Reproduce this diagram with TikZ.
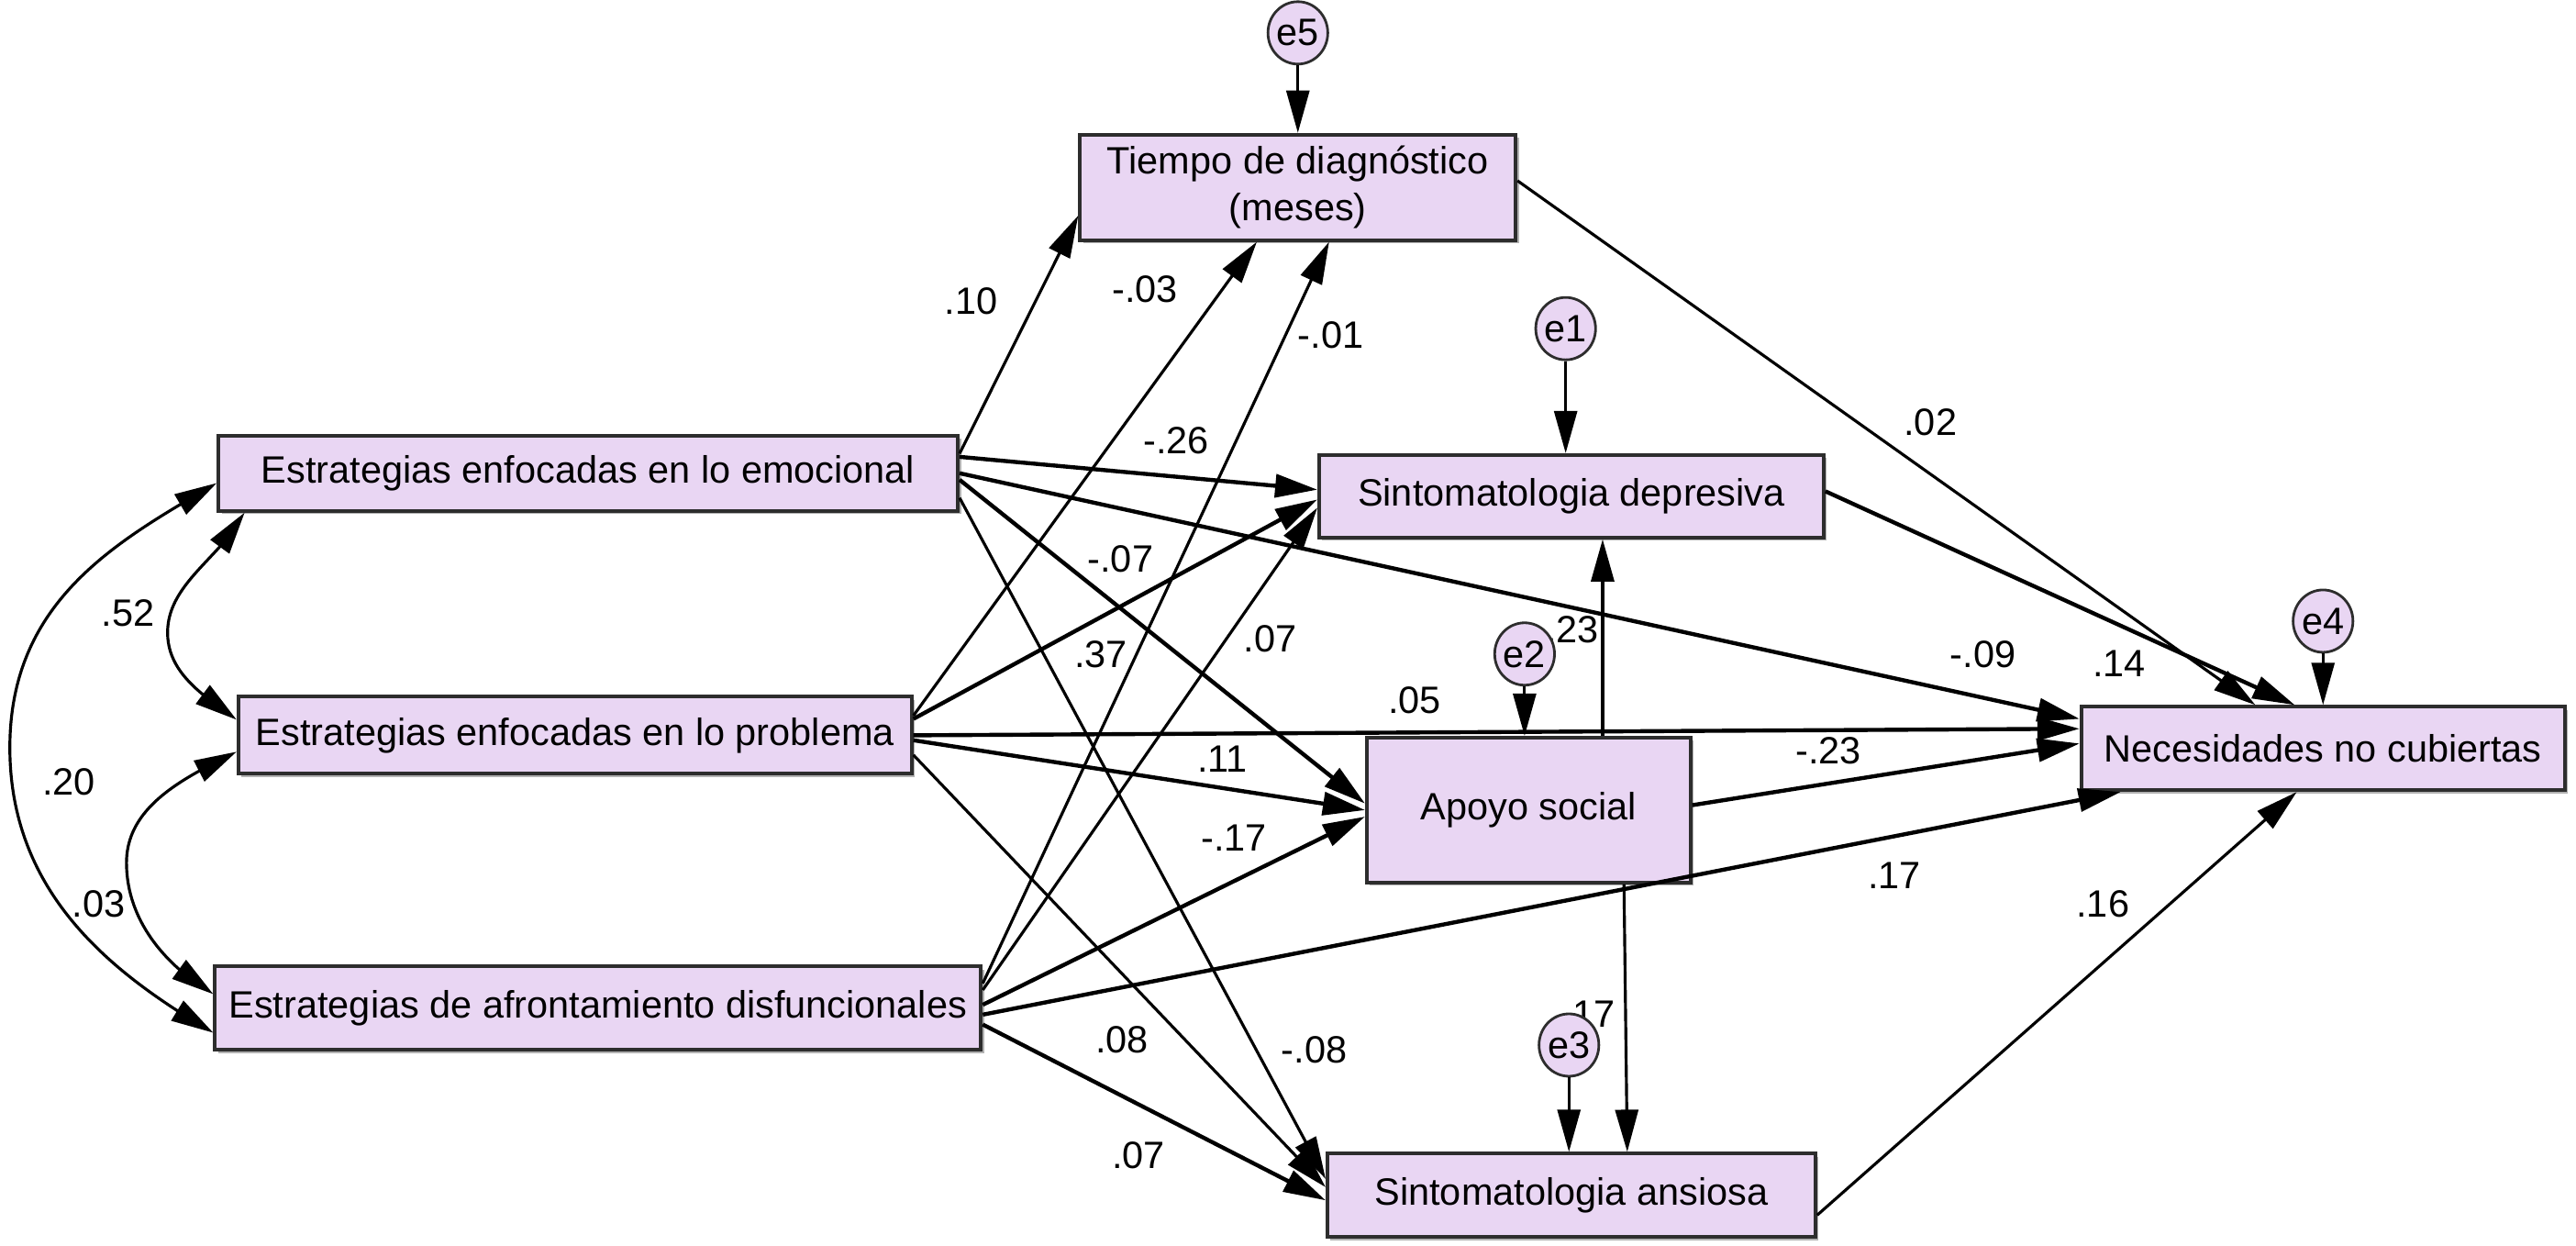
\documentclass[tikz,border=0pt]{standalone}
\usepackage{fontspec}
\setmainfont{Liberation Sans}
\usetikzlibrary{arrows.meta,bending,calc,shapes.geometric,shadows}
\definecolor{lav}{RGB}{233,214,243}
\definecolor{edge}{RGB}{45,45,45}

\begin{document}
\begin{tikzpicture}[x=0.1791mm,y=-0.1791mm,font=\fontsize{11.8}{14.5}\selectfont,
    var/.style={draw=edge,fill=lav,line width=1.1pt,inner sep=0pt,align=center,
      drop shadow={shadow xshift=1pt,shadow yshift=-1pt,fill=black,opacity=.3}},
    err/.style={ellipse,draw=edge,fill=lav,line width=.8pt,inner sep=0pt,
      minimum width=6.4mm,minimum height=6.8mm},
    coef/.style={inner sep=0pt},
    link/.style={-{Triangle[length=4.6mm,width=2.5mm]},line width=.9pt},
    heavy/.style={link,line width=1.25pt},
    cov/.style={{Triangle[length=4.6mm,width=2.5mm]}-{Triangle[length=4.6mm,width=2.5mm]},line width=.9pt}]
  \useasboundingbox (0,0) rectangle (1568,758);

  % observed variables
  \node[var,minimum width=80.6mm,minimum height=8.2mm] (emo) at (358,288) {Estrategias enfocadas en lo emocional};
  \node[var,minimum width=73.4mm,minimum height=8.4mm] (prob) at (350,447.5) {Estrategias enfocadas en lo problema};
  \node[var,minimum width=83.5mm,minimum height=9.1mm] (disf) at (364,613.5) {Estrategias de afrontamiento disfuncionales};
  \node[var,minimum width=47.5mm,minimum height=11.5mm] (tiempo) at (790,114) {Tiempo de diagn\'ostico\\(meses)};
  \node[var,minimum width=55mm,minimum height=9mm] (depre) at (956.5,302) {Sintomatologia depresiva};
  \node[var,minimum width=35.3mm,minimum height=15.8mm] (apoyo) at (930.5,493) {Apoyo social};
  \node[var,minimum width=52.7mm,minimum height=9.1mm] (necs) at (1414,455.5) {Necesidades no cubiertas};
  \node[var,minimum width=53.2mm,minimum height=9.1mm] (ansi) at (956.5,727.5) {Sintomatologia ansiosa};

  % coefficients
  \foreach \w/\x/\y [count=\i] in {.10/591/183, -.03/697/176, -.01/810/204, -.26/716/268,
      .02/1175/257, .52/78/373, -.07/682/340, .37/670/398, .07/773/389, .23/957/383,
      -.09/1207/398, .14/1290/404, .05/861/426, .20/42/476, .11/744/462, -.23/1113/457,
      -.17/751/510, .17/1153/533, .16/1280/550, .03/60/550, .17/967/617, .08/683/633,
      -.08/800/639, .07/693/703}
    \node[coef] (w\i) at (\x,\y) {\w};

  % covariances
  \draw[cov] ($(emo.south west)+(17,0)$) .. controls (135,339) and (102,355) .. (102,385)
    .. controls (102,410) and (124.5,423.7) .. ($(prob.west)+(0,-9.5)$);
  \draw[cov] ($(prob.west)+(0,10)$) .. controls (113.5,472.7) and (77,490) .. (77,525)
    .. controls (77,560) and (100.5,587.5) .. ($(disf.west)+(0,-8.5)$);
  \draw[cov] ($(emo.west)+(0,6)$) .. controls (72,329) and (6,365) .. (6,455)
    .. controls (6,545) and (70,593.5) .. ($(disf.west)+(0,15)$);

  % to tiempo
  \draw[link] ($(emo.north east)+(0,12)$) -- ($(tiempo.south west)+(0,-16)$);
  \draw[link] ($(prob.east)+(0,-12)$) -- ($(tiempo.south)+(-25,0)$);
  \draw[link] ($(disf.east)+(0,-15)$) -- ($(tiempo.south)+(19,0)$);
  % to depre
  \draw[heavy] ($(emo.north east)+(0,14)$) -- ($(depre.west)+(0,-4)$);
  \draw[heavy] ($(prob.east)+(0,-10)$) -- ($(depre.west)+(0,2)$);
  \draw[link] ($(disf.east)+(0,-11)$) -- ($(depre.west)+(0,7)$);
  % to apoyo
  \draw[heavy] ($(emo.east)+(0,4)$) -- ($(apoyo.west)+(0,-4)$);
  \draw[heavy] ($(prob.east)+(0,3)$) -- (apoyo.west);
  \draw[heavy] ($(disf.east)+(0,-2)$) -- ($(apoyo.west)+(0,4)$);
  % to ansi
  \draw[link] ($(emo.east)+(0,15)$) -- ($(ansi.west)+(0,-10)$);
  \draw[link] ($(prob.east)+(0,12)$) -- ($(ansi.west)+(0,-5)$);
  \draw[heavy] ($(disf.east)+(0,10)$) -- ($(ansi.west)+(0,3)$);
  % to necs
  \draw[heavy] (emo.east) -- ($(necs.west)+(0,-18)$);
  \draw[heavy] (prob.east) -- ($(necs.west)+(0,-12)$);
  \draw[heavy] ($(disf.east)+(0,4)$) -- ($(necs.south west)+(25,0)$);
  \draw[link] ($(tiempo.east)+(0,-4)$) -- ($(necs.north west)+(107,0)$);
  \draw[heavy] ($(depre.east)+(0,-3)$) -- ($(necs.north west)+(131,0)$);
  \draw[heavy] ($(apoyo.east)+(0,-3)$) -- ($(necs.west)+(0,-3)$);
  \draw[link] ($(ansi.east)+(0,12)$) -- ($(necs.south)+(-16,0)$);
  % from apoyo
  \draw[link] ($(apoyo.north)+(45,0)$) -- ($(depre.south)+(19,0)$);
  \draw[link] ($(apoyo.south)+(58,0)$) -- ($(ansi.north)+(34,0)$);

  % errors
  \node[err] (e5) at (790,20) {e5};
  \node[err] (e1) at (953,200) {e1};
  \node[err] (e2) at (928,398) {e2};
  \node[err] (e3) at (955,636) {e3};
  \node[err] (e4) at (1414,378) {e4};
  \draw[link,line width=.8pt] (e5) -- (tiempo.north);
  \draw[link,line width=.8pt] (e1) -- (e1 |- depre.north);
  \draw[link,line width=.8pt] (e2) -- (e2 |- apoyo.north);
  \draw[link,line width=.8pt] (e3) -- (e3 |- ansi.north);
  \draw[link,line width=.8pt] (e4) -- (necs.north);
\end{tikzpicture}
\end{document}
